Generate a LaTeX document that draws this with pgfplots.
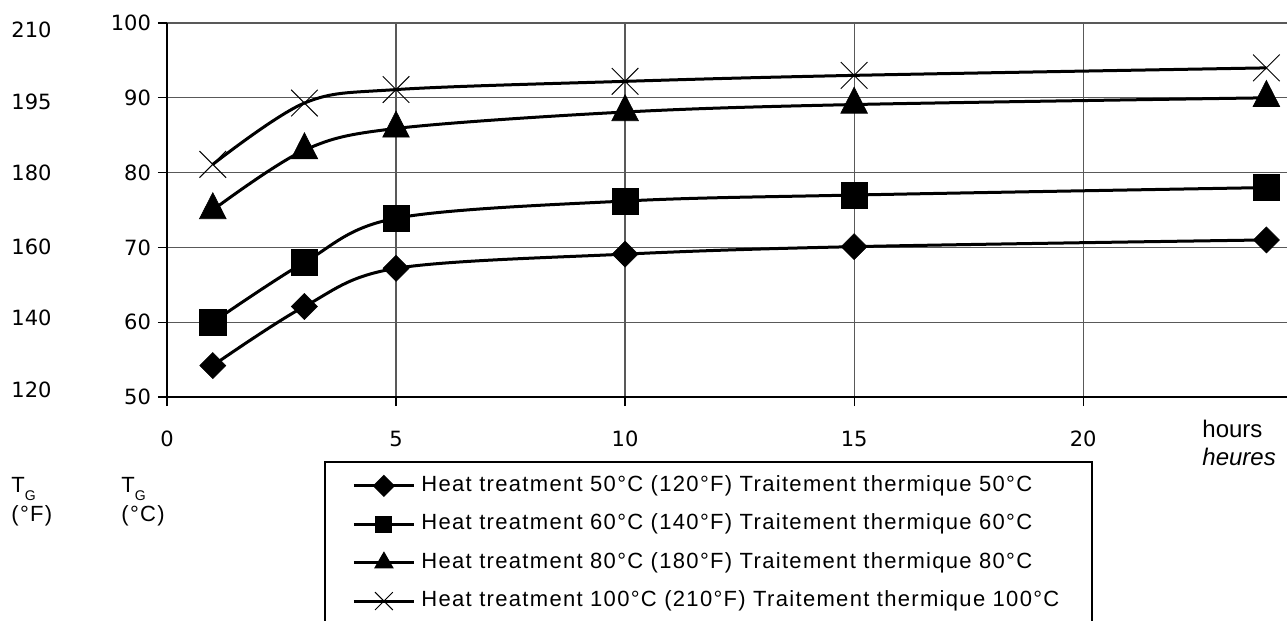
\documentclass[border=0pt]{standalone}
\usepackage{fontspec}
\setmainfont{Liberation Sans}
\newfontfamily\tickfont{DejaVu Sans}
\newfontfamily\legfont[LetterSpace=6]{Liberation Sans}
\usepackage{pgfplots}
\pgfplotsset{compat=1.18}

\begin{document}
\begin{tikzpicture}
\useasboundingbox (-83.5bp,-112bp) rectangle (560bp,198.5bp);
\begin{axis}[
  scale only axis,
  width=560bp, height=187bp,
  xmin=0, xmax=24.45, ymin=50, ymax=100,
  axis x line=bottom, axis y line=left,
  axis line style={-, black, line width=0.8bp},
  xtick={0,5,10,15,20}, ytick={50,60,...,100},
  tick align=outside, major tick length=4.5bp,
  tick style={black, line width=0.6bp},
  grid=major, major grid style={black!65, line width=0.6bp},
  ticklabel style={font=\tickfont\fontsize{10.5bp}{12bp}\selectfont},
  xticklabel style={yshift=-9bp},
  /pgf/number format/assume math mode=true,
  clip=false,
  legend image code/.code={\draw[mark repeat=2,mark phase=2,#1] plot coordinates {(0bp,0bp) (15bp,0bp) (30bp,0bp)};},
  legend cell align=left,
  legend style={at={(axis description cs:0.1652,-0.2085)}, anchor=north west,
    draw=none, fill=none, inner sep=0pt, row sep=8.7bp,
    nodes={inner sep=0pt, anchor=west, text height=8bp, text depth=2.5bp,
      font=\legfont\fontsize{11bp}{13bp}\selectfont},
    /tikz/every odd column/.append style={column sep=3bp}},
]
% 50 C
\addplot[black, line width=1.5bp, smooth, tension=0.55, mark=square*, mark size=4.6bp,
  mark options={rotate=45, solid, line width=0.3bp}, forget plot]
  coordinates {(1,54.2) (3,62.1) (5,67.2) (10,69.1) (15,70.1) (24,71.0)};
% 60 C
\addplot[black, line width=1.5bp, smooth, tension=0.55, mark=square*, mark size=6.6bp,
  mark options={solid, line width=0.3bp}, forget plot]
  coordinates {(1,60.0) (3,68.0) (5,73.9) (10,76.2) (15,77.0) (24,78.0)};
% 80 C
\addplot[black, line width=1.5bp, smooth, tension=0.55, mark=triangle*, mark size=7.7bp,
  mark options={solid, line width=0.3bp, yscale=1.13}, forget plot]
  coordinates {(1,75.0) (3,83.0) (5,85.9) (10,88.1) (15,89.1) (24,90.0)};
% 100 C
\addplot[black, line width=1.5bp, smooth, tension=0.55, mark=x, mark size=9.4bp,
  mark options={solid, line width=0.5bp}, forget plot]
  coordinates {(1,81.1) (3,89.3) (5,91.1) (10,92.2) (15,93.0) (24,94.0)};

\addlegendimage{black, line width=1.5bp, mark=square*, mark size=3.2bp, mark options={rotate=45}}
\addlegendentry{Heat treatment 50°C (120°F) Traitement thermique 50°C}
\addlegendimage{black, line width=1.5bp, mark=square*, mark size=3.5bp}
\addlegendentry{Heat treatment 60°C (140°F) Traitement thermique 60°C}
\addlegendimage{black, line width=1.5bp, mark=triangle*, mark size=4.2bp}
\addlegendentry{Heat treatment 80°C (180°F) Traitement thermique 80°C}
\addlegendimage{black, line width=1.5bp, mark=x, mark size=6.3bp, mark options={line width=0.5bp}}
\addlegendentry{Heat treatment 100°C (210°F) Traitement thermique 100°C}
\end{axis}

% legend frame, open at the bottom
\draw[line width=0.7bp] (79bp,-112bp) -- (79bp,-32.5bp) -- (462.5bp,-32.5bp) -- (462.5bp,-112bp);

% Fahrenheit scale
\begin{scope}[every node/.style={font=\tickfont\fontsize{10.5bp}{12bp}\selectfont, inner sep=0pt}]
\node at (-67.75bp,183.5bp) {210};
\node at (-67.75bp,147.5bp) {195};
\node at (-67.75bp,112bp) {180};
\node at (-67.75bp,75bp) {160};
\node at (-67.75bp,39.5bp) {140};
\node at (-67.75bp,3.5bp) {120};
\end{scope}

% axis captions
\node[anchor=north west, inner sep=0pt, align=left, font=\fontsize{11bp}{14.5bp}\selectfont] at (-78bp,-40.1bp)
  {T\raisebox{-4bp}{\fontsize{7bp}{7bp}\selectfont G}\\{\legfont(°F)}};
\node[anchor=north west, inner sep=0pt, align=left, font=\fontsize{11bp}{14.5bp}\selectfont] at (-23bp,-40.1bp)
  {T\raisebox{-4bp}{\fontsize{7bp}{7bp}\selectfont G}\\{\legfont(°C)}};
\node[anchor=base west, inner sep=0pt, font=\fontsize{12bp}{14bp}\selectfont] at (517.5bp,-20bp) {hours};
\node[anchor=base west, inner sep=0pt, font=\itshape\fontsize{12bp}{14bp}\selectfont] at (517.5bp,-34bp) {heures};
\end{tikzpicture}
\end{document}
